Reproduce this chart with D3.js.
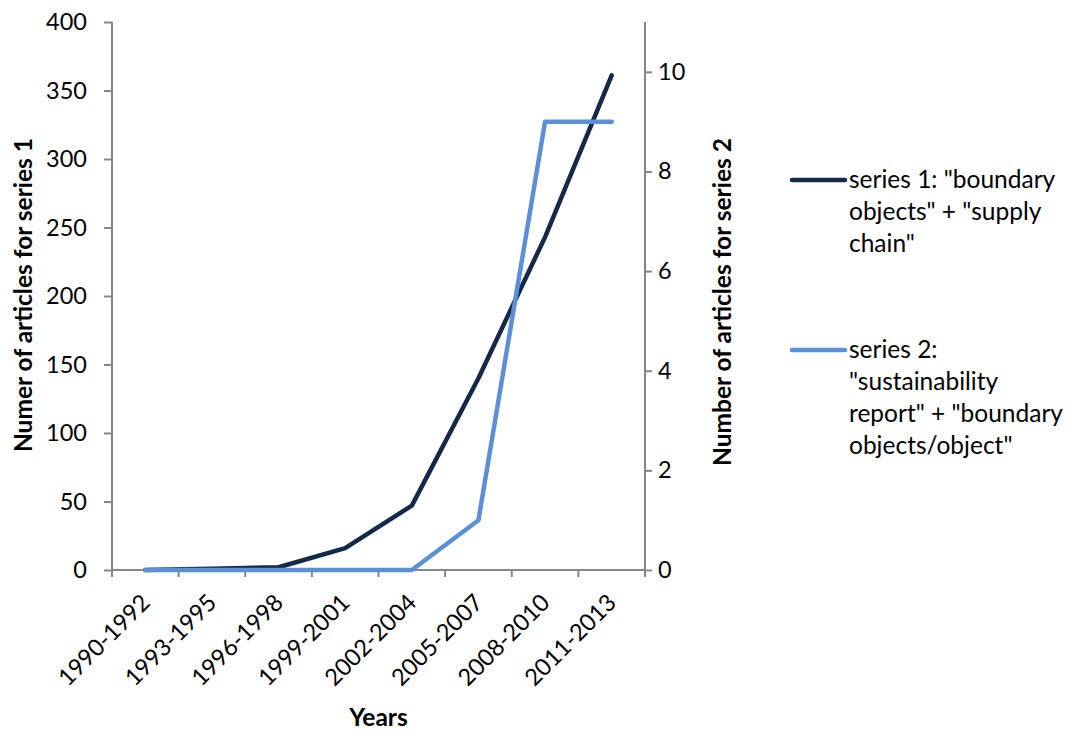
<!DOCTYPE html>
<html>
<head>
<meta charset="utf-8">
<script src="https://cdn.jsdelivr.net/npm/d3@7"></script>
<style>
  html, body { margin: 0; padding: 0; background: #fff; }
  svg text { font-family: Lato, "Open Sans", sans-serif; fill: #000; }
</style>
</head>
<body>
<svg id="chart" width="1074" height="731"></svg>
<script>
// Article counts per three-year period
const periods = ["1990-1992", "1993-1995", "1996-1998", "1999-2001",
                 "2002-2004", "2005-2007", "2008-2010", "2011-2013"];
const series1 = [0, 1, 2, 16, 47, 140, 243, 361];
const series2 = [0, 0, 0, 0, 0, 1, 9, 9];
const leftTicks = [0, 50, 100, 150, 200, 250, 300, 350, 400];
const rightTicks = [0, 2, 4, 6, 8, 10];
const legendLines1 = ["series 1: \"boundary", "objects\" + \"supply", "chain\""];
const legendLines2 = ["series 2:", "\"sustainability", "report\" + \"boundary", "objects/object\""];

const svg = d3.select("#chart");
const plotLeft = 112, plotRight = 645, plotTop = 22, plotBottom = 570;
const axisColor = "#868686";
const tickFont = 23.5, labelFont = 24.5;

const x = d3.scaleBand().domain(periods).range([plotLeft, plotRight]).padding(0);
const y1 = d3.scaleLinear().domain([0, 400]).range([plotBottom, plotTop]);
const y2 = d3.scaleLinear().domain([0, 11]).range([plotBottom, plotTop]);

// Left axis
const gl = svg.append("g").attr("transform", `translate(${plotLeft},0)`)
  .call(d3.axisLeft(y1).tickValues(leftTicks).tickSize(8).tickPadding(17).tickSizeOuter(0));
// Right axis
const gr = svg.append("g").attr("transform", `translate(${plotRight},0)`)
  .call(d3.axisRight(y2).tickValues(rightTicks).tickSize(7).tickPadding(6).tickSizeOuter(0));
// Bottom axis: ticks at band edges
const gb = svg.append("g").attr("transform", `translate(0,${plotBottom})`);
gb.append("line").attr("x1", plotLeft).attr("x2", plotRight).attr("y1", 0).attr("y2", 0)
  .attr("stroke", axisColor).attr("stroke-width", 2);
const edges = periods.map(p => x(p)).concat([x(periods[periods.length - 1]) + x.bandwidth()]);
gb.selectAll("line.tk").data(edges).join("line").attr("class", "tk")
  .attr("x1", d => d).attr("x2", d => d).attr("y1", 0).attr("y2", 7)
  .attr("stroke", axisColor).attr("stroke-width", 2);
gb.selectAll("text").data(periods).join("text")
  .attr("transform", d => `translate(${x(d) + x.bandwidth() / 2 + 6},${34}) rotate(-45)`)
  .attr("text-anchor", "end").attr("font-size", tickFont).text(d => d);

// Extend vertical axis lines slightly below the baseline
[gl, gr].forEach(g => {
  g.select(".domain").attr("stroke", axisColor).attr("stroke-width", 2)
    .attr("d", `M0,${plotTop}V${plotBottom + 7}`);
  g.selectAll(".tick line").attr("stroke", axisColor).attr("stroke-width", 2);
  g.selectAll(".tick text").attr("font-size", tickFont)
    .style("font-family", "Lato, 'Open Sans', sans-serif").attr("fill", "#000");
});

// Lines
const cx = p => x(p) + x.bandwidth() / 2;
const line1 = d3.line().x((d, i) => cx(periods[i])).y(d => y1(d));
const line2 = d3.line().x((d, i) => cx(periods[i])).y(d => y2(d));
svg.append("path").datum(series1).attr("d", line1)
  .attr("fill", "none").attr("stroke", "#13294a").attr("stroke-width", 4.5)
  .attr("stroke-linecap", "round").attr("stroke-linejoin", "round");
svg.append("path").datum(series2).attr("d", line2)
  .attr("fill", "none").attr("stroke", "#5a90d8").attr("stroke-width", 4.5)
  .attr("stroke-linecap", "round").attr("stroke-linejoin", "round");

// Axis titles
svg.append("text").attr("transform", `translate(32,295) rotate(-90)`)
  .attr("text-anchor", "middle").attr("font-size", labelFont).attr("font-weight", "bold")
  .text("Numer of articles for series 1");
svg.append("text").attr("transform", `translate(731,302) rotate(-90)`)
  .attr("text-anchor", "middle").attr("font-size", labelFont).attr("font-weight", "bold")
  .text("Number of articles for series 2");
svg.append("text").attr("x", (plotLeft + plotRight) / 2).attr("y", 726)
  .attr("text-anchor", "middle").attr("font-size", labelFont).attr("font-weight", "bold")
  .text("Years");

// Legend
const legend = [
  { color: "#13294a", lines: legendLines1, y: 180 },
  { color: "#5a90d8", lines: legendLines2, y: 350 }
];
legend.forEach(item => {
  svg.append("line").attr("x1", 792).attr("x2", 845).attr("y1", item.y).attr("y2", item.y)
    .attr("stroke", item.color).attr("stroke-width", 4.5).attr("stroke-linecap", "round");
  svg.append("g").selectAll("text").data(item.lines).join("text")
    .attr("x", 849).attr("y", (d, i) => item.y + 8 + i * 32)
    .attr("font-size", labelFont).text(d => d);
});
</script>
</body>
</html>
